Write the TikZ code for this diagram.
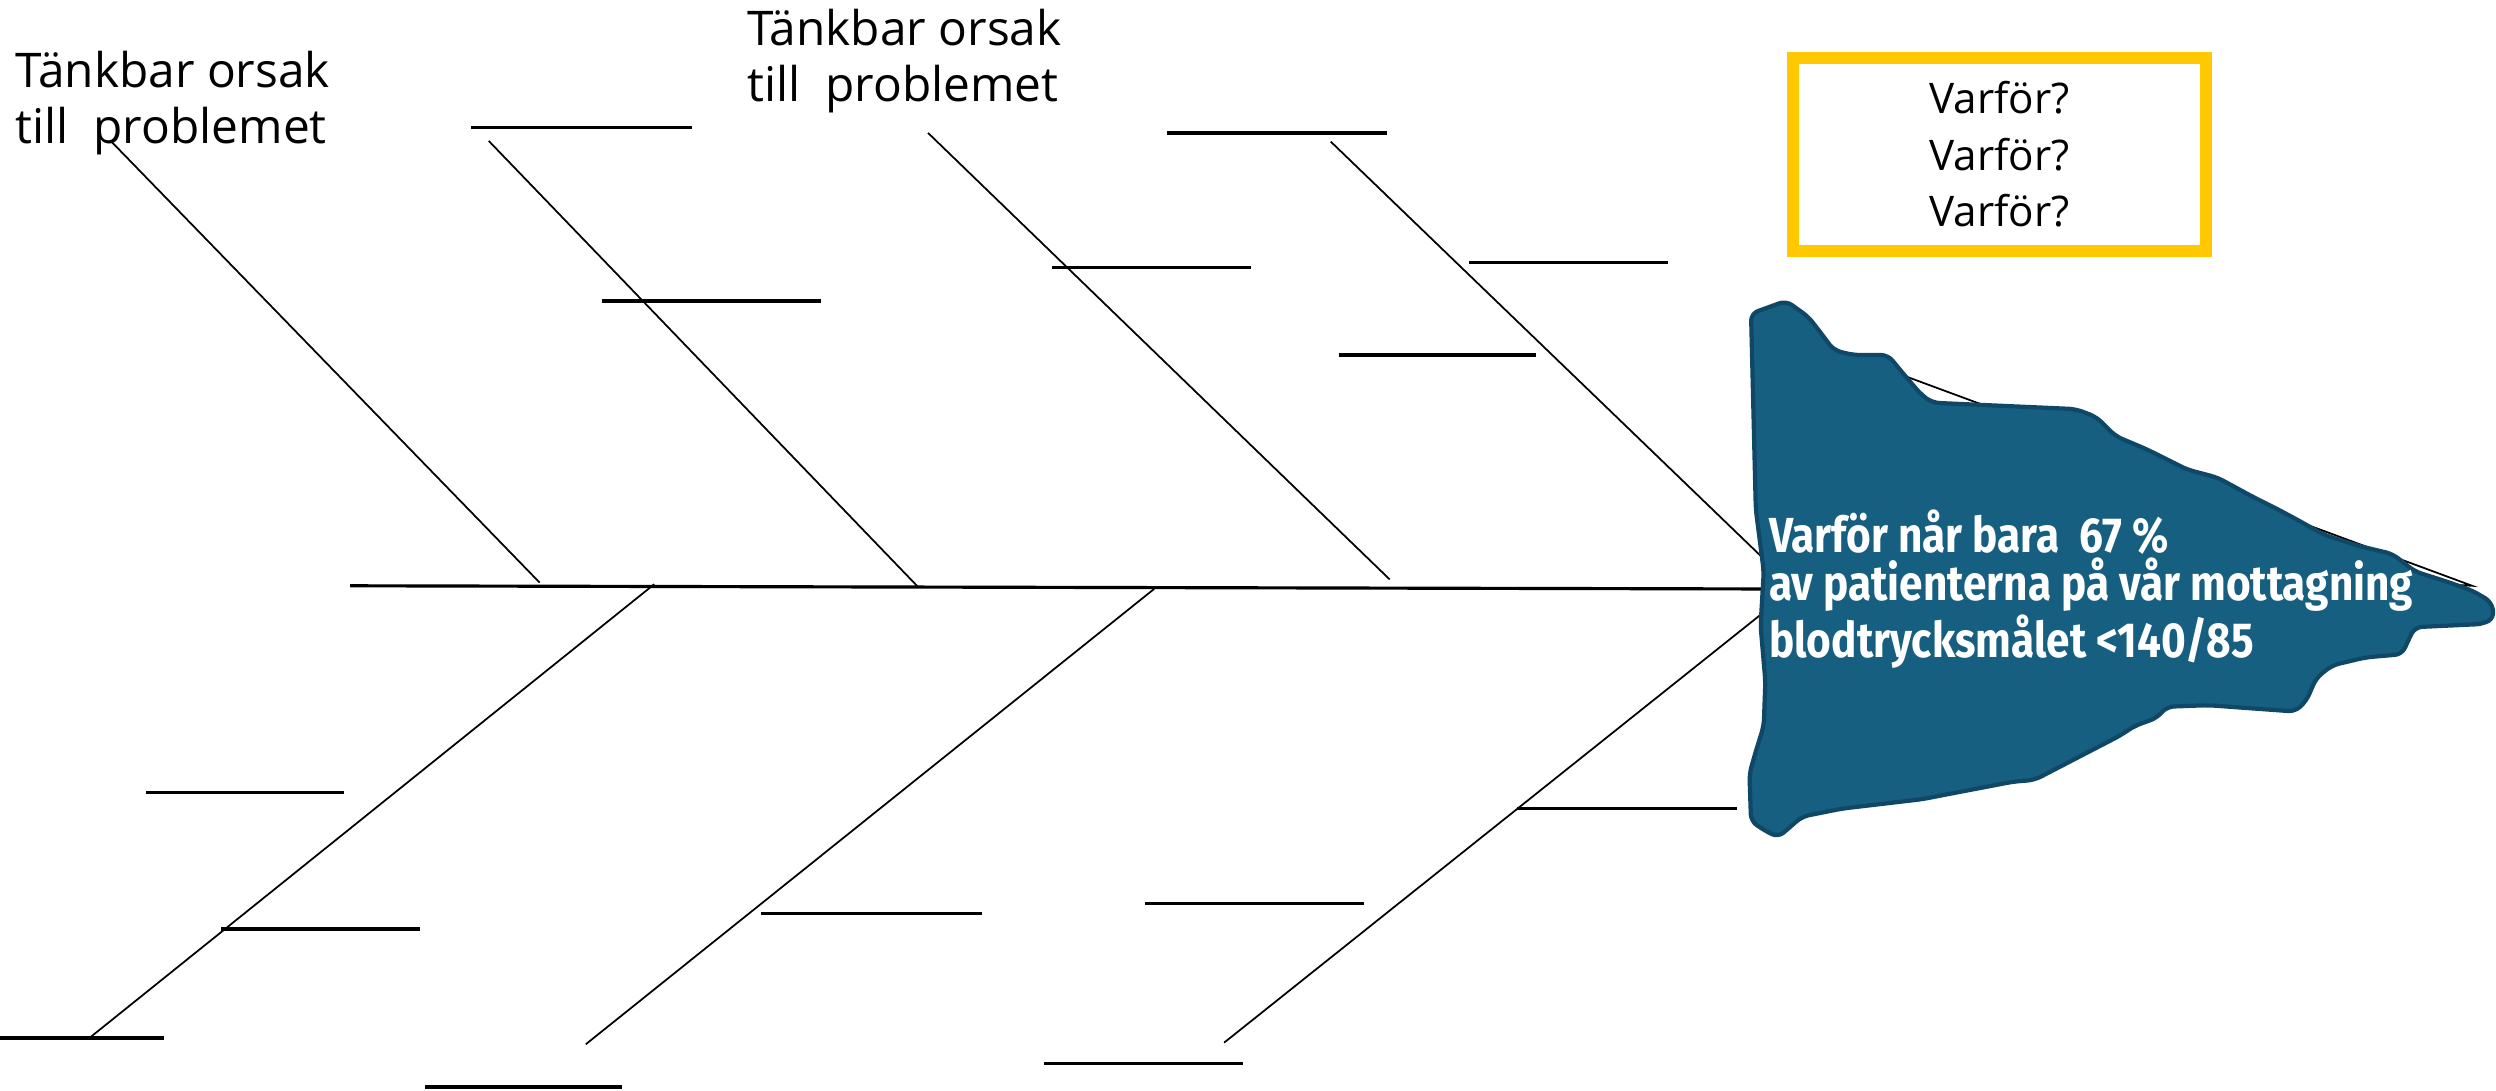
\documentclass[tikz,border=0pt]{standalone}
\usepackage{fontspec}
\setmainfont{Open Sans}
\newfontfamily\headfont{Fira Sans}[FakeStretch=0.86]
\definecolor{fishblue}{HTML}{175F80}
\definecolor{fishedge}{HTML}{0F4866}
\definecolor{whyyellow}{HTML}{FFC800}
\begin{document}
\begin{tikzpicture}[x=0.01592cm,y=-0.01592cm,
		spine/.style={line width=0.9pt},
		bone/.style={line width=0.5pt},
		blank/.style={line width=1pt},
		cause/.style={font=\fontsize{13.6}{15.9}\selectfont, align=left, inner sep=0pt, anchor=base west},
		whybox/.style={draw=whyyellow, line width=3.4pt, minimum width=4.13cm, minimum height=1.931cm,
			font=\fontsize{12}{16}\selectfont, align=center, inner sep=0pt},
		head/.style={draw=fishedge, fill=fishblue, line width=1.2pt, rounded corners=2pt},
		problem/.style={font=\headfont\bfseries\fontsize{14}{13.5}\selectfont, text=white,
			align=left, inner sep=0pt, anchor=base west},
	]
	\useasboundingbox (0,0) rectangle (1568,685);

	% spine
	\coordinate (tail) at (220,368);
	\coordinate (mouth) at (1110,370);
	\draw[spine] (tail) -- (mouth);

	% bones above and below
	\foreach \xa/\ya/\xb/\yb in {70/89/339/366, 307/88.5/577/369, 583/83.5/873/364, 836/89/1110/353,
			411/367/55/653, 725/370/368/656, 1110/383/769/655}
		\draw[bone] (\xa,\ya) -- (\xb,\yb);

	% blanks to write on
	\foreach \xa/\xb/\y in {296/435/80, 378/516/189, 733/871/83.5, 661/786/168, 923/1048/165,
			841/965/223, 92/216/498, 139/264/583.5, 0/103/652, 478/617/574, 719/857/567.5,
			267/391/683, 953/1091/508, 656/781/668}
		\draw[blank] (\xa,\y) -- (\xb,\y);

	% old head outline, mostly hidden
	\draw[bone] (1150,219) -- (1553,368) -- (1536,367);

	% fish head
	\draw[head] (1100,197) -- (1122,189) -- (1136,199) -- (1146,212) -- (1152,220) -- (1164,223)
		-- (1186,223) -- (1195,234) -- (1207,248) -- (1214,253) -- (1304,257) -- (1317,262)
		-- (1329,274) -- (1348,282) -- (1374,295) -- (1393,300) -- (1415,312) -- (1431,320)
		-- (1444,327) -- (1460,336) -- (1482,343) -- (1503,348) -- (1517,359) -- (1536,365)
		-- (1553,371) -- (1565,378) -- (1567,388) -- (1560,392) -- (1517,394) -- (1513,402)
		-- (1509,411) -- (1486,413) -- (1465,418) -- (1455,426) -- (1449,440) -- (1442,447)
		-- (1387,443) -- (1361,444) -- (1355,451) -- (1341,456) -- (1332,462) -- (1278,490)
		-- (1265,491) -- (1218,500) -- (1208,502) -- (1157,508) -- (1132,513) -- (1124,520)
		-- (1117,526) -- (1109,522) -- (1100,516) -- (1099,486) -- (1103,472) -- (1108,456)
		-- (1109,428) -- (1106,393) -- (1108,359) -- (1103,320) -- cycle;

	% labels
	\node[cause] (cause1) at (9.4,90) {Tänkbar orsak\\till\ \ problemet};
	\node[cause] (cause2) at (469,64) {Tänkbar orsak\\till\ \ problemet};
	\node[whybox] (why) at (1256,97) {Varför?\\Varför?\\Varför?};
	\node[problem] (effect) at (1111,413) {Varför når bara\ \ 67 \%\\av patienterna på vår mottagning\\blodtrycksmålet <140/85};
\end{tikzpicture}
\end{document}
